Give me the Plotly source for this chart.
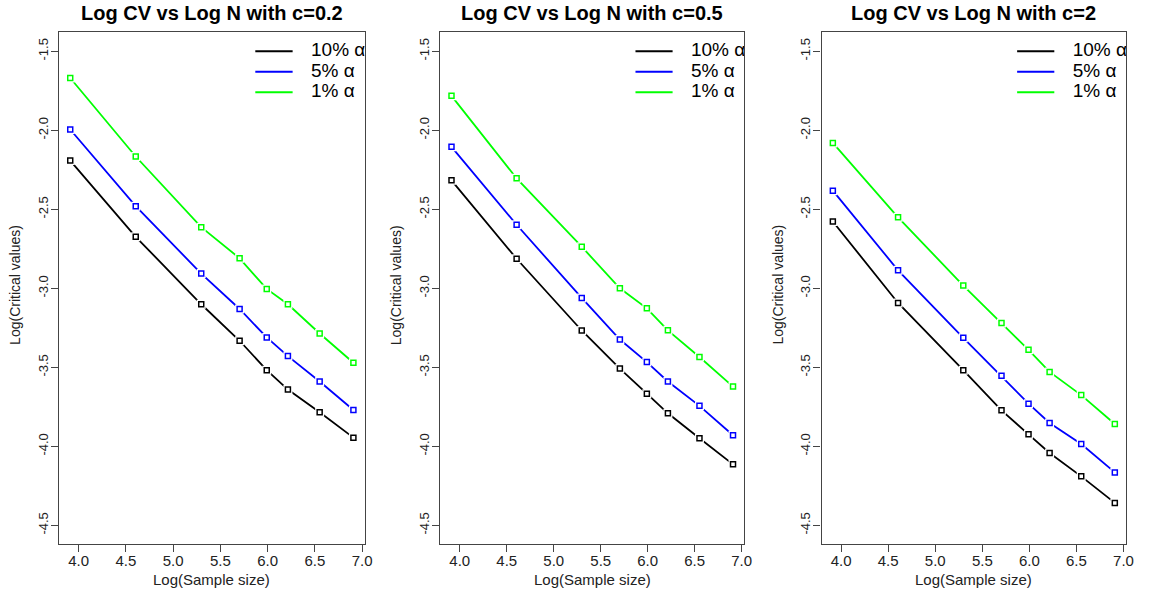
import plotly.graph_objects as go

# ---- data ----
log_n = [3.912, 4.605, 5.298, 5.704, 5.991, 6.215, 6.551, 6.908]

c_labels = ["c=0.2", "c=0.5", "c=2"]
series_names = ["10% α", "5% α", "1% α"]
series_colors = ["#000000", "#0000FF", "#00FF00"]

c02_10 = [-2.192, -2.674, -3.101, -3.332, -3.518, -3.641, -3.784, -3.945]
c02_5 = [-1.995, -2.480, -2.907, -3.131, -3.311, -3.429, -3.590, -3.770]
c02_1 = [-1.669, -2.166, -2.613, -2.810, -3.004, -3.101, -3.286, -3.471]

c05_10 = [-2.317, -2.813, -3.267, -3.508, -3.667, -3.791, -3.949, -4.114]
c05_5 = [-2.105, -2.598, -3.061, -3.324, -3.467, -3.590, -3.744, -3.930]
c05_1 = [-1.782, -2.304, -2.737, -3.000, -3.127, -3.266, -3.435, -3.622]

c2_10 = [-2.577, -3.093, -3.518, -3.772, -3.924, -4.042, -4.190, -4.358]
c2_5 = [-2.382, -2.886, -3.313, -3.554, -3.730, -3.852, -3.985, -4.165]
c2_1 = [-2.080, -2.551, -2.983, -3.220, -3.389, -3.529, -3.676, -3.859]

panels = [[c02_10, c02_5, c02_1], [c05_10, c05_5, c05_1], [c2_10, c2_5, c2_1]]

x_tickvals = [4.0, 4.5, 5.0, 5.5, 6.0, 6.5, 7.0]
x_ticktext = ["4.0", "4.5", "5.0", "5.5", "6.0", "6.5", "7.0"]
y_tickvals = [-1.5, -2.0, -2.5, -3.0, -3.5, -4.0, -4.5]
y_ticktext = ["-1.5", "-2.0", "-2.5", "-3.0", "-3.5", "-4.0", "-4.5"]

x_title = "Log(Sample size)"
y_title = "Log(Critical values)"

# ---- layout geometry ----
W, H = 1151, 592
x_domains = [(59.3 / W, 367.3 / W), (443.3 / W, 749.5 / W), (827.3 / W, 1134.0 / W)]
y_domain = (1 - 544.3 / H, 1 - 32.3 / H)
x_range = [3.792, 7.028]
y_range = [-4.62, -1.38]
FONT = "Liberation Sans, Arial, sans-serif"

fig = go.Figure()
layout_axes = {}
annotations = []
shapes = []

legend_y = [-1.5, -1.63, -1.76]

for p, series in enumerate(panels):
    xa = "x" if p == 0 else f"x{p+1}"
    ya = "y" if p == 0 else f"y{p+1}"
    for s, vals in enumerate(series):
        col = series_colors[s]
        fig.add_trace(go.Scatter(x=log_n, y=vals, xaxis=xa, yaxis=ya, mode="lines",
                                 line=dict(color=col, width=1.8), showlegend=False,
                                 hoverinfo="skip"))
        fig.add_trace(go.Scatter(x=log_n, y=vals, xaxis=xa, yaxis=ya, mode="markers",
                                 marker=dict(symbol="square", size=9, color="white",
                                             line=dict(width=0)),
                                 showlegend=False, hoverinfo="skip"))
        fig.add_trace(go.Scatter(x=log_n, y=vals, xaxis=xa, yaxis=ya, mode="markers",
                                 marker=dict(symbol="square-open", size=5, color=col,
                                             line=dict(width=1.5, color=col)),
                                 name=series_names[s], showlegend=False))
        shapes.append(dict(type="line", xref=xa, yref=ya, x0=5.87, x1=6.265,
                           y0=legend_y[s], y1=legend_y[s],
                           line=dict(color=col, width=2)))
    fig.add_trace(go.Scatter(x=[6.46] * 3, y=legend_y, xaxis=xa, yaxis=ya, mode="text",
                             text=series_names, textposition="middle right",
                             textfont=dict(family=FONT, size=19, color="black"),
                             cliponaxis=True, showlegend=False, hoverinfo="skip"))

    sfx = "" if p == 0 else str(p + 1)
    layout_axes[f"xaxis{sfx}"] = dict(
        domain=list(x_domains[p]), range=x_range, anchor=ya,
        tickvals=x_tickvals, ticktext=x_ticktext, ticks="outside", ticklen=7,
        tickcolor="#444", tickwidth=1, showline=True, linecolor="#444", linewidth=1.3,
        mirror=True, showgrid=False, zeroline=False, ticklabelstandoff=-4,
        tickfont=dict(family=FONT, size=15, color="#222"))
    layout_axes[f"yaxis{sfx}"] = dict(
        domain=list(y_domain), range=y_range, anchor=xa,
        tickvals=y_tickvals, ticktext=y_ticktext, ticks="outside", ticklen=7,
        tickcolor="#444", tickwidth=1, showline=True, linecolor="#444", linewidth=1.3,
        mirror=True, showgrid=False, zeroline=False, tickangle=-90,
        ticklabelstandoff=-2,
        tickfont=dict(family=FONT, size=13, color="#222"))

    annotations.append(dict(text="<b>Log CV vs Log N with " + c_labels[p] + "</b>",
                            xref=f"{xa} domain", x=0.5, yref="paper", y=1 - 13 / H,
                            xanchor="center", yanchor="middle", showarrow=False,
                            font=dict(family=FONT, size=20, color="black")))
    annotations.append(dict(text=x_title, xref=f"{xa} domain", x=0.5, yref="paper",
                            y=1 - 579 / H, xanchor="center", yanchor="middle",
                            showarrow=False,
                            font=dict(family=FONT, size=15, color="#222")))
    annotations.append(dict(text=y_title, xref=f"{xa} domain", x=0, xshift=-44,
                            yref="paper", y=1 - 285 / H, xanchor="center",
                            yanchor="middle", textangle=-90, showarrow=False,
                            font=dict(family=FONT, size=14, color="#222")))

fig.update_layout(width=W, height=H, margin=dict(l=0, r=0, t=0, b=0),
                  paper_bgcolor="white", plot_bgcolor="white",
                  annotations=annotations, shapes=shapes, showlegend=False,
                  **layout_axes)

fig.write_html("out.html", config={"displayModeBar": False},
               post_script="document.body.style.margin='0';"
                           "document.body.style.overflow='hidden';")
